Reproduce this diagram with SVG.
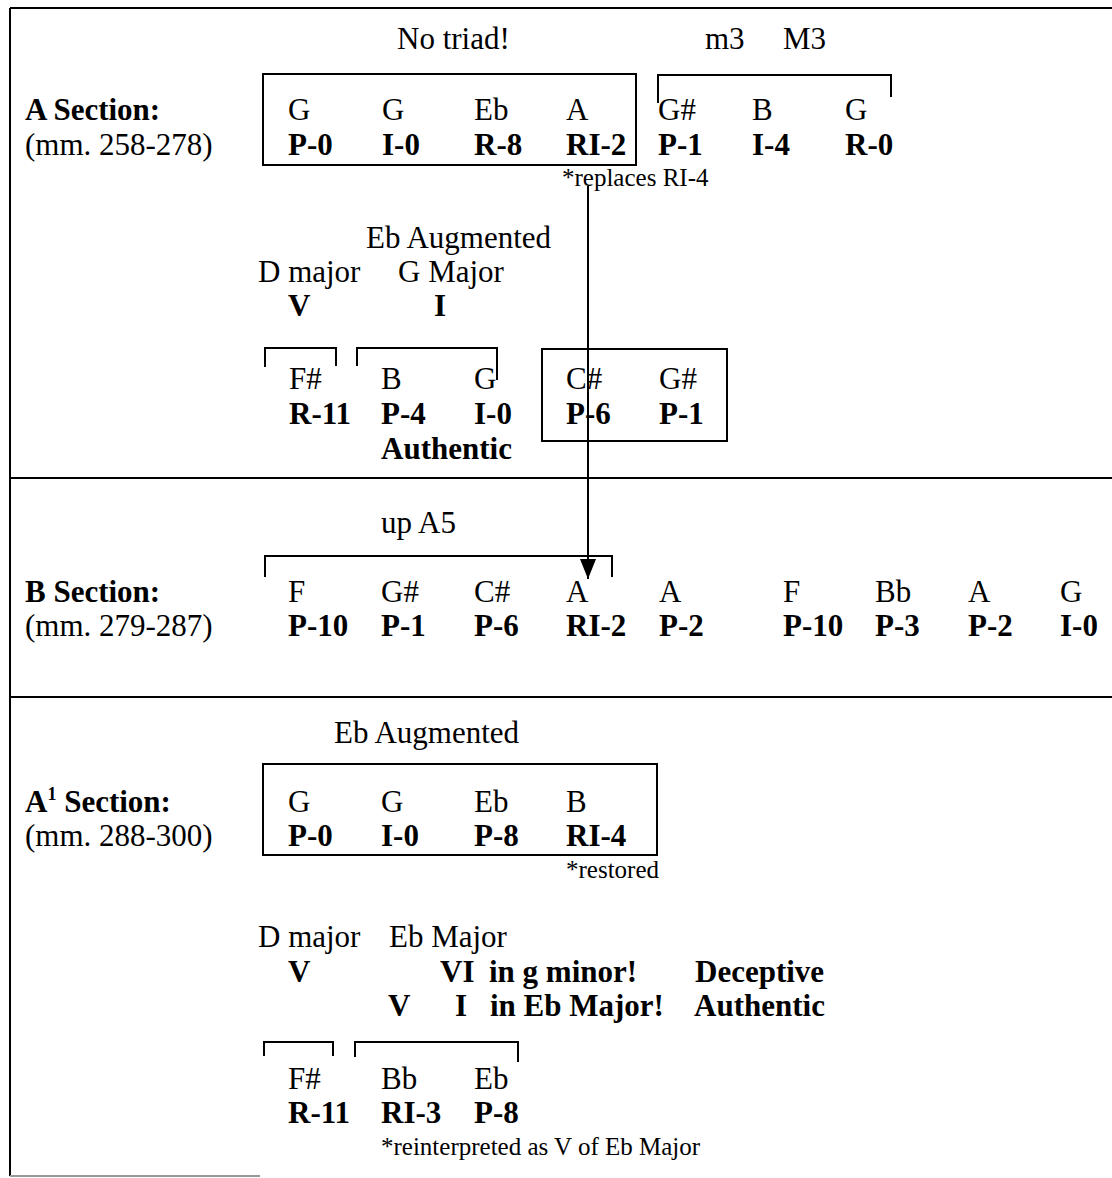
<svg xmlns="http://www.w3.org/2000/svg" width="1112" height="1178" viewBox="0 0 1112 1178">
  <style>
    text { font-family: "Liberation Serif", "Times New Roman", serif; font-size: 31px; fill: #000; }
    .b { font-weight: bold; }
    .sm { font-size: 25px; }
    .frame { stroke: #000; stroke-width: 2; fill: none; }
    .box { stroke: #000; stroke-width: 2; fill: none; }
    .br { stroke: #000; stroke-width: 2; fill: none; }
    .conn { stroke: #000; stroke-width: 2; fill: none; }
  </style>
  <defs>
    <marker id="arrow" markerWidth="20" markerHeight="16" refX="20" refY="8" orient="auto" markerUnits="userSpaceOnUse">
      <path d="M0,0 L20,8 L0,16 Z" fill="#000"/>
    </marker>
  </defs>
  <rect width="1112" height="1178" fill="#fff"/>

  <!-- table frame -->
  <g id="frame">
    <path class="frame" d="M10,8 H1112 M10,8 V1176 M10,478 H1112 M10,697 H1112"/>
    <path d="M10,1176 H260" stroke="#999" stroke-width="2"/>
  </g>

  <!-- A section -->
  <g id="section-a">
    <text class="b" x="25" y="120">A Section:</text>
    <text x="25" y="155">(mm. 258-278)</text>
    <text x="397" y="49">No triad!</text>
    <text x="705" y="49">m3</text>
    <text x="783" y="49">M3</text>
  </g>
  <g id="a-row-box">
    <rect class="box" x="263" y="74" width="373" height="91"/>
    <text x="288" y="120">G</text><text class="b" x="288" y="155">P-0</text>
    <text x="382" y="120">G</text><text class="b" x="382" y="155">I-0</text>
    <text x="474" y="120">Eb</text><text class="b" x="474" y="155">R-8</text>
    <text x="566" y="120">A</text><text class="b" x="566" y="155">RI-2</text>
    <text class="sm" x="562" y="186">*replaces RI-4</text>
  </g>
  <g id="a-row-bracket">
    <path class="br" d="M658,103 V75 H891 V97"/>
    <text x="658" y="120">G#</text><text class="b" x="658" y="155">P-1</text>
    <text x="752" y="120">B</text><text class="b" x="752" y="155">I-4</text>
    <text x="845" y="120">G</text><text class="b" x="845" y="155">R-0</text>
  </g>
  <g id="a-cadence">
    <text x="366" y="248">Eb Augmented</text>
    <text x="258" y="282">D major</text>
    <text x="398" y="282">G Major</text>
    <text class="b" x="288" y="316">V</text>
    <text class="b" x="434" y="316">I</text>
    <path class="br" d="M265,367 V348 H336 V366"/>
    <path class="br" d="M357,366 V348 H497 V380"/>
    <text x="289" y="389">F#</text><text class="b" x="289" y="424">R-11</text>
    <text x="381" y="389">B</text><text class="b" x="381" y="424">P-4</text>
    <text x="474" y="389">G</text><text class="b" x="474" y="424">I-0</text>
    <text class="b" x="381" y="459">Authentic</text>
  </g>
  <g id="a-box-2">
    <rect class="box" x="542" y="349" width="185" height="92"/>
    <text x="566" y="389">C#</text><text class="b" x="566" y="424">P-6</text>
    <text x="659" y="389">G#</text><text class="b" x="659" y="424">P-1</text>
  </g>

  <!-- B section -->
  <g id="section-b">
    <text class="b" x="25" y="602">B Section:</text>
    <text x="25" y="636">(mm. 279-287)</text>
    <text x="381" y="533">up A5</text>
    <path class="br" d="M265,577 V556 H612 V577"/>
    <text x="288" y="602">F</text><text class="b" x="288" y="636">P-10</text>
    <text x="381" y="602">G#</text><text class="b" x="381" y="636">P-1</text>
    <text x="474" y="602">C#</text><text class="b" x="474" y="636">P-6</text>
    <text x="566" y="602">A</text><text class="b" x="566" y="636">RI-2</text>
    <text x="659" y="602">A</text><text class="b" x="659" y="636">P-2</text>
    <text x="783" y="602">F</text><text class="b" x="783" y="636">P-10</text>
    <text x="875" y="602">Bb</text><text class="b" x="875" y="636">P-3</text>
    <text x="968" y="602">A</text><text class="b" x="968" y="636">P-2</text>
    <text x="1060" y="602">G</text><text class="b" x="1060" y="636">I-0</text>
  </g>

  <!-- A1 section -->
  <g id="section-a1">
    <text class="b" x="25" y="812">A<tspan font-size="18" dy="-12">1</tspan><tspan dy="12"> Section:</tspan></text>
    <text x="25" y="846">(mm. 288-300)</text>
    <text x="334" y="743">Eb Augmented</text>
  </g>
  <g id="a1-row-box">
    <rect class="box" x="263" y="764" width="394" height="91"/>
    <text x="288" y="812">G</text><text class="b" x="288" y="846">P-0</text>
    <text x="381" y="812">G</text><text class="b" x="381" y="846">I-0</text>
    <text x="474" y="812">Eb</text><text class="b" x="474" y="846">P-8</text>
    <text x="566" y="812">B</text><text class="b" x="566" y="846">RI-4</text>
    <text class="sm" x="566" y="878">*restored</text>
  </g>
  <g id="a1-cadence">
    <text x="258" y="947">D major</text>
    <text x="389" y="947">Eb Major</text>
    <text class="b" x="288" y="982">V</text>
    <text class="b" x="440" y="982">VI</text>
    <text class="b" x="489" y="982">in g minor!</text>
    <text class="b" x="695" y="982">Deceptive</text>
    <text class="b" x="388" y="1016">V</text>
    <text class="b" x="455" y="1016">I</text>
    <text class="b" x="490" y="1016">in Eb Major!</text>
    <text class="b" x="694" y="1016">Authentic</text>
    <path class="br" d="M264,1056 V1042 H333 V1056"/>
    <path class="br" d="M355,1057 V1042 H518 V1062"/>
    <text x="288" y="1089">F#</text><text class="b" x="288" y="1123">R-11</text>
    <text x="381" y="1089">Bb</text><text class="b" x="381" y="1123">RI-3</text>
    <text x="474" y="1089">Eb</text><text class="b" x="474" y="1123">P-8</text>
    <text class="sm" x="381" y="1155">*reinterpreted as V of Eb Major</text>
  </g>

  <!-- connector: RI-2 carried into the B section -->
  <g id="connectors">
    <path class="conn" d="M588,186 V579" marker-end="url(#arrow)"/>
  </g>
</svg>
